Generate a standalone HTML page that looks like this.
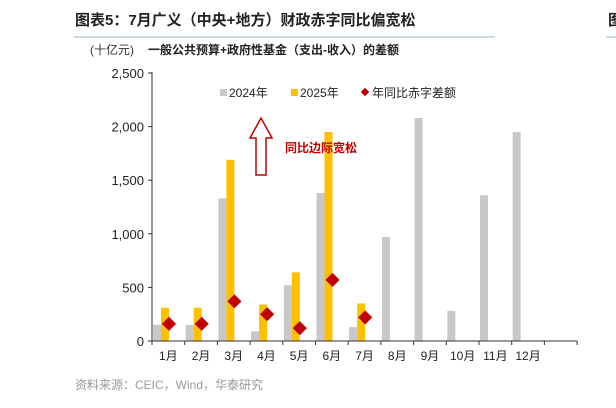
<!DOCTYPE html>
<html><head><meta charset="utf-8"><style>
body{margin:0;width:616px;height:403px;background:#fff;overflow:hidden;font-family:"Liberation Sans","Noto Sans CJK SC",sans-serif}
</style></head><body>
<svg width="616" height="403" xmlns="http://www.w3.org/2000/svg" font-family="Liberation Sans, Noto Sans CJK SC, sans-serif">
<text x="75" y="25" font-size="15" font-weight="bold" fill="#222">图表5：7月广义（中央+地方）财政赤字同比偏宽松</text>
<line x1="74" y1="37" x2="495" y2="37" stroke="#9fb3c8" stroke-width="1"/>
<text x="608" y="25" font-size="15" font-weight="bold" fill="#222">图</text>
<line x1="606" y1="37" x2="616" y2="37" stroke="#9fb3c8"/>
<text x="90" y="54" font-size="12" fill="#333">(十亿元)</text>
<text x="148" y="54" font-size="12" font-weight="bold" fill="#222">一般公共预算+政府性基金（支出-收入）的差额</text>
<g id="plot"></g>
<g>
<rect x="220" y="89" width="7" height="7" fill="#c8c8c8"/><text x="229" y="97" font-size="12" fill="#222">2024年</text>
<rect x="291" y="89" width="7" height="7" fill="#ffc000"/><text x="300" y="97" font-size="12" fill="#222">2025年</text>
<rect x="362" y="89" width="6" height="6" fill="#c00000" transform="rotate(45 365 92)"/><text x="372" y="97" font-size="12" fill="#222">年同比赤字差额</text>
</g>
<g>
<path d="M256,175 L256,138 L250,138 L261,118 L272,138 L266,138 L266,175 Z" fill="#fff" stroke="#c00000" stroke-width="1.5"/>
</g>
<text x="285" y="152" font-size="12" font-weight="bold" fill="#c00000">同比边际宽松</text>
<text x="75" y="389" font-size="12" fill="#999">资料来源：CEIC，Wind，华泰研究</text>
</svg>
<script>
const categories=["1月","2月","3月","4月","5月","6月","7月","8月","9月","10月","11月","12月"];
const values2024=[150,150,1330,90,520,1380,130,970,2080,280,1360,1950];
const values2025=[310,310,1690,340,640,1950,350];
const yoyDiff=[160,160,370,250,120,570,220];
const yTicks=[0,500,1000,1500,2000,2500];
const yTickLabels=["0","500","1,000","1,500","2,000","2,500"];
const NS="http://www.w3.org/2000/svg";
const g=document.getElementById("plot");
const x0=152,slot=32.7,nSlots=13,yBase=341,yTop=73,yMax=2500;
function y(v){return yBase-(v/yMax)*(yBase-yTop);}
function xs(i){return x0+i*slot;}
function mk(t,a){const e=document.createElementNS(NS,t);for(const k in a)e.setAttribute(k,a[k]);g.appendChild(e);return e;}
yTicks.forEach((v,i)=>{
 const l=mk("line",{x1:x0-4,x2:x0,y1:y(v),y2:y(v),stroke:"#333"});
 
 
 const t=mk("text",{x:x0-8,y:y(v)+5,"text-anchor":"end","font-size":"13",fill:"#222"});
 t.textContent=yTickLabels[i];
 
 
});
values2024.forEach((v,i)=>{
 const r=mk("rect",{x:xs(i)+1,y:y(v),width:8,height:yBase-y(v),fill:"#c8c8c8"});
 
 
});
values2025.forEach((v,i)=>{
 const r=mk("rect",{x:xs(i)+9,y:y(v),width:8,height:yBase-y(v),fill:"#ffc000"});
 
 
});
const ax=mk("line",{x1:x0,x2:x0,y1:yTop-1,y2:yBase,stroke:"#333"});


const bx=mk("line",{x1:x0,x2:xs(nSlots),y1:yBase,y2:yBase,stroke:"#333"});


for(let i=0;i<=nSlots;i++){
 const l=mk("line",{x1:xs(i),x2:xs(i),y1:yBase,y2:yBase+4,stroke:"#333"});
 
 
}
yoyDiff.forEach((v,i)=>{
 const cx=xs(i)+17,cy=y(v);
 const d=mk("rect",{x:cx-5,y:cy-5,width:10,height:10,fill:"#c00000",transform:`rotate(45 ${cx} ${cy})`});
 
 
});
categories.forEach((c,i)=>{
 const t=mk("text",{x:xs(i)+slot/2,y:yBase+19,"text-anchor":"middle","font-size":"12",fill:"#222"});
 t.textContent=c;
 
 
});
</script>
</body></html>
